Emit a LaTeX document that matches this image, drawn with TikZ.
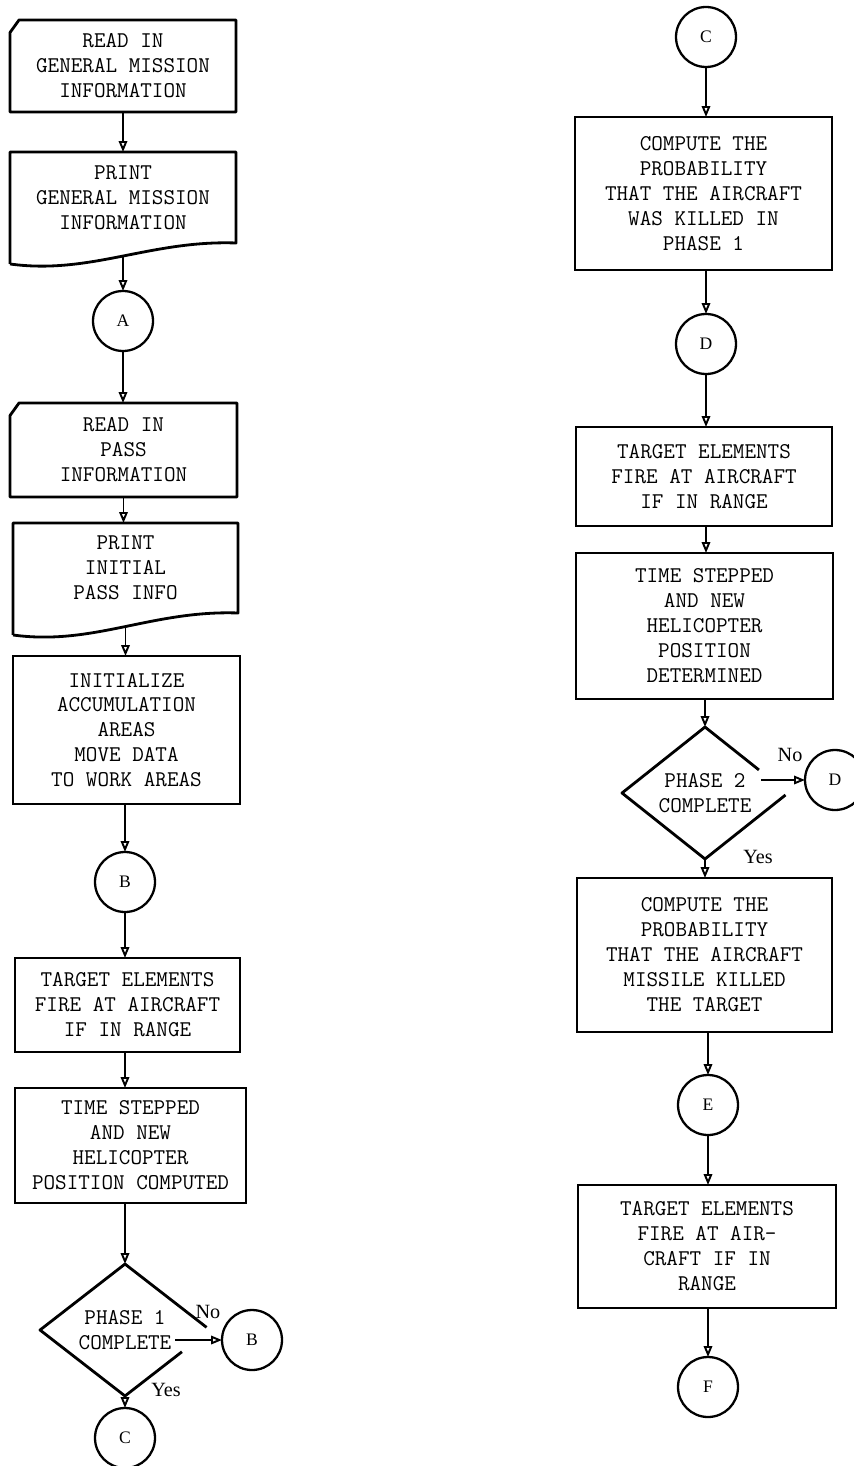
\documentclass[tikz,border=0pt]{standalone}
\usepackage{fontspec}
\setmainfont{Liberation Serif}
\usetikzlibrary{arrows.meta,calc,shapes.geometric}

\tikzset{
  box/.style={rectangle, draw, line width=1.6pt, inner sep=0pt, outer sep=0pt,
    align=center, font=\ttfamily\fontsize{12.8}{14.2}\selectfont},
  plainbox/.style={box, draw=none},
  conn/.style={circle, draw, line width=1.3pt, minimum size=1.2cm, inner sep=0pt,
    outer sep=0pt, font=\fontsize{10}{12}\selectfont},
  decide/.style={diamond, draw=none, inner sep=0pt, outer sep=0pt, align=center,
    font=\ttfamily\fontsize{12.8}{14.2}\selectfont},
  outline/.style={line width=1.6pt, line join=round},
  flow/.style={line width=1.1pt, -{Triangle[open,length=2.2mm,width=1.7mm]}},
  lbl/.style={font=\fontsize{11.5}{13}\selectfont, inner sep=0pt}
}

\begin{document}
\begin{tikzpicture}[x=0.02cm, y=-0.02cm]
\useasboundingbox (0,0) rectangle (854,1466);

% left column
\node[plainbox, minimum width=4.52cm, minimum height=1.84cm] (readgen) at (123,66)
  {READ IN\\GENERAL MISSION\\INFORMATION};
\draw[outline] ([yshift=-0.25cm]readgen.north west) -- ([xshift=0.18cm]readgen.north west)
  -- (readgen.north east) -- (readgen.south east) -- (readgen.south west) -- cycle;

\node[plainbox, minimum width=4.52cm, minimum height=1.82cm] (printgen) at (123,197.5)
  {PRINT\\GENERAL MISSION\\INFORMATION};
\draw[outline] ([yshift=-0.42cm]printgen.south west) -- (printgen.north west)
  -- (printgen.north east) -- (printgen.south east)
  .. controls +(-86,-3) and +(80,11) .. ([yshift=-0.42cm]printgen.south west);
\coordinate (printgenbot) at ($(printgen.south)+(0,13)$);

\node[conn] (conA) at (123,321) {A};

\node[plainbox, minimum width=4.54cm, minimum height=1.88cm] (readpass) at (123.5,450)
  {READ IN\\PASS\\INFORMATION};
\draw[outline] ([yshift=-0.25cm]readpass.north west) -- ([xshift=0.18cm]readpass.north west)
  -- (readpass.north east) -- (readpass.south east) -- (readpass.south west) -- cycle;

\node[plainbox, minimum width=4.5cm, minimum height=1.8cm] (printpass) at (125.5,568)
  {PRINT\\INITIAL\\PASS INFO};
\draw[outline] ([yshift=-0.44cm]printpass.south west) -- (printpass.north west)
  -- (printpass.north east) -- (printpass.south east)
  .. controls +(-86,-3) and +(80,11) .. ([yshift=-0.44cm]printpass.south west);
\coordinate (printpassbot) at ($(printpass.south)+(0,13)$);

\node[box, minimum width=4.54cm, minimum height=2.96cm] (init) at (126.5,730)
  {INITIALIZE\\ACCUMULATION\\AREAS\\MOVE DATA\\TO WORK AREAS};

\node[conn] (conB) at (125,882) {B};

\node[box, minimum width=4.5cm, minimum height=1.88cm] (fireone) at (127.5,1005)
  {TARGET ELEMENTS\\FIRE AT AIRCRAFT\\IF IN RANGE};

\node[box, minimum width=4.62cm, minimum height=2.3cm] (stepone) at (130.5,1145.5)
  {TIME STEPPED\\AND NEW\\HELICOPTER\\POSITION COMPUTED};

\node[decide, minimum width=3.4cm, minimum height=2.56cm] (phaseone) at (125,1330)
  {PHASE 1\\COMPLETE};
\draw[outline] ($(phaseone.north)!0.96!(phaseone.east)$) -- (phaseone.north)
  -- (phaseone.west) -- (phaseone.south) -- ($(phaseone.south)!0.67!(phaseone.east)$);
\coordinate (noone) at ($(phaseone.center)+(50,10)$);

\node[conn] (conBb) at (252,1340) {B};
\node[conn] (conC) at (125,1438) {C};
\node[lbl] (noonelbl) at (208,1312) {No};
\node[lbl] (yesonelbl) at (166,1390) {Yes};

% right column
\node[conn] (conCc) at (706,37) {C};

\node[box, minimum width=5.14cm, minimum height=3.06cm] (probone) at (703.5,193.5)
  {COMPUTE THE\\PROBABILITY\\THAT THE AIRCRAFT\\WAS KILLED IN\\PHASE 1};

\node[conn] (conD) at (706,344) {D};

\node[box, minimum width=5.12cm, minimum height=1.98cm] (firetwo) at (704,476.5)
  {TARGET ELEMENTS\\FIRE AT AIRCRAFT\\IF IN RANGE};

\node[box, minimum width=5.14cm, minimum height=2.92cm] (steptwo) at (704.5,626)
  {TIME STEPPED\\AND NEW\\HELICOPTER\\POSITION\\DETERMINED};

\node[decide, minimum width=3.32cm, minimum height=2.48cm] (phasetwo) at (705,793)
  {PHASE 2\\COMPLETE};
\draw[outline] ($(phasetwo.north)!0.65!(phasetwo.east)$) -- (phasetwo.north)
  -- (phasetwo.west) -- (phasetwo.south) -- ($(phasetwo.south)!0.97!(phasetwo.east)$);
\coordinate (notwo) at ($(phasetwo.center)+(56,-13)$);

\node[conn] (conDd) at (835,780) {D};
\node[lbl] (notwolbl) at (790,755) {No};
\node[lbl] (yestwolbl) at (758,857) {Yes};

\node[box, minimum width=5.1cm, minimum height=3.08cm] (probtwo) at (704.5,955)
  {COMPUTE THE\\PROBABILITY\\THAT THE AIRCRAFT\\MISSILE KILLED\\THE TARGET};

\node[conn] (conE) at (708,1105) {E};

\node[box, minimum width=5.16cm, minimum height=2.46cm] (firethree) at (707,1246.5)
  {TARGET ELEMENTS\\FIRE AT AIR-\\CRAFT IF IN\\RANGE};

\node[conn] (conF) at (708,1387) {F};

% connectors
\draw[flow] (readgen.south) -- (readgen.south |- printgen.north);
\draw[flow] (printgenbot) -- (conA.north);
\draw[flow] (conA.south) -- (conA.south |- readpass.north);
\draw[flow] (readpass.south) -- (readpass.south |- printpass.north);
\draw[flow] (printpassbot) -- (printpassbot |- init.north);
\draw[flow] (conB.north |- init.south) -- (conB.north);
\draw[flow] (conB.south) -- (conB.south |- fireone.north);
\draw[flow] (conB.south |- fireone.south) -- (conB.south |- stepone.north);
\draw[flow] (conB.south |- stepone.south) -- (phaseone.north);
\draw[flow] (phaseone.south) -- (conC.north);
\draw[flow] (noone) -- (noone -| conBb.west);

\draw[flow] (conCc.south) -- (conCc.south |- probone.north);
\draw[flow] (conCc.south |- probone.south) -- (conD.north);
\draw[flow] (conD.south) -- (conD.south |- firetwo.north);
\draw[flow] (conD.south |- firetwo.south) -- (conD.south |- steptwo.north);
\draw[flow] (phasetwo.north |- steptwo.south) -- (phasetwo.north);
\draw[flow] (notwo) -- (notwo -| conDd.west);
\draw[flow] (phasetwo.south) -- (phasetwo.south |- probtwo.north);
\draw[flow] (conE.north |- probtwo.south) -- (conE.north);
\draw[flow] (conE.south) -- (conE.south |- firethree.north);
\draw[flow] (conF.north |- firethree.south) -- (conF.north);

\end{tikzpicture}
\end{document}
